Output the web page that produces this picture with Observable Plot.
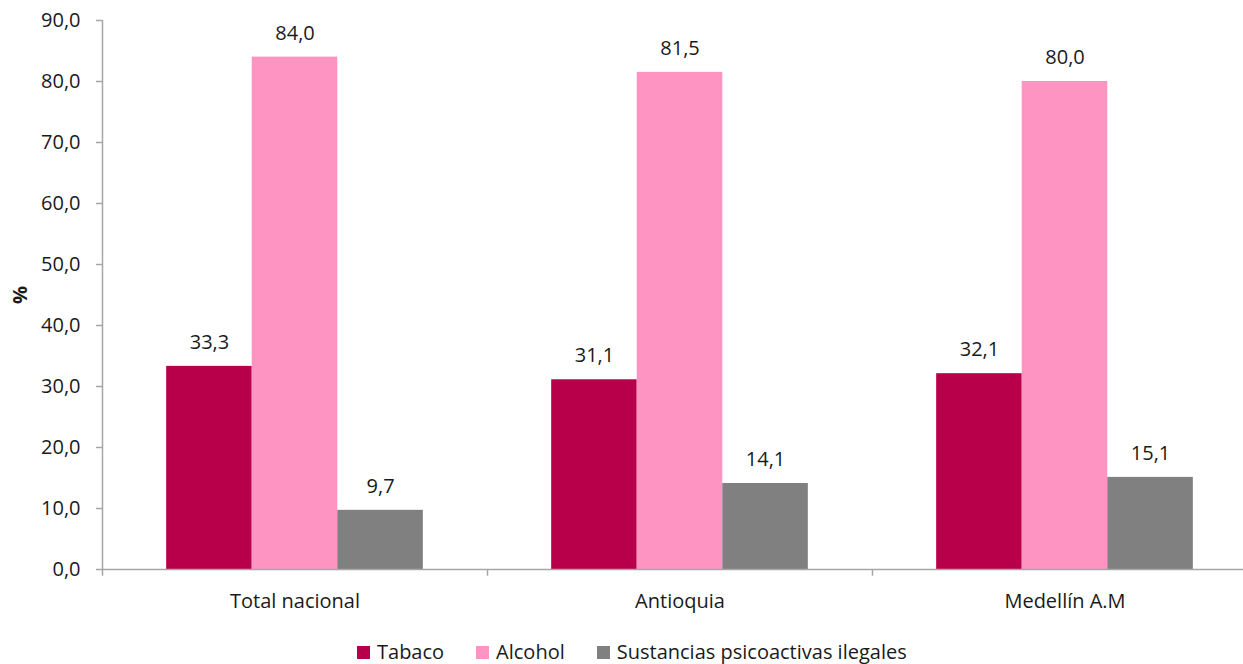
<!DOCTYPE html>
<html>
<head>
<meta charset="utf-8">
<script src="https://cdn.jsdelivr.net/npm/d3@7"></script>
<script src="https://cdn.jsdelivr.net/npm/@observablehq/plot@0.6"></script>
<style>
  html, body { margin: 0; padding: 0; background: #fff; overflow: hidden; }
  #wrap { position: relative; width: 1243px; height: 664px; overflow: hidden; font-family: "Open Sans", "Noto Sans", sans-serif; color: #1a1a1a; }
  #chart { position: absolute; left: 0; top: 0; }
  #chart svg { max-width: none !important; }
  g[aria-label="y-axis label"] text { font-weight: bold; }
  #legend { position: absolute; left: 357px; top: 640px; display: flex; align-items: center; font-size: 20px; line-height: 24px; white-space: nowrap; }
  #legend .item { display: flex; align-items: center; margin-right: 32px; }
  #legend .sw { width: 13px; height: 13px; margin-right: 7px; }
</style>
</head>
<body>
<div id="wrap">
  <div id="chart"></div>
  <div id="legend"></div>
</div>
<script>
const categories = ["Total nacional", "Antioquia", "Medellín A.M"];
const series = ["Tabaco", "Alcohol", "Sustancias psicoactivas ilegales"];
const tabaco = [33.3, 31.1, 32.1];
const alcohol = [84.0, 81.5, 80.0];
const ilegales = [9.7, 14.1, 15.1];
const colors = ["#b8004a", "#fe94c2", "#808080"];
const yTicks = [0, 10, 20, 30, 40, 50, 60, 70, 80, 90];
const yLabel = "%";

const values = [tabaco, alcohol, ilegales];
const rows = categories.flatMap((c, ci) =>
  series.map((s, si) => ({category: c, series: s, index: si, value: values[si][ci]}))
);
const fmt = v => v.toFixed(1).replace(".", ",");
const yMax = d3.max(yTicks);
const pad = 0.75; // gap on each side of the bar group, in bar widths
const axisColor = "#a6a6a6";
const fs = 20;

const plot = Plot.plot({
  width: 1260,
  height: 620,
  marginTop: 20,
  marginBottom: 51,
  marginLeft: 101,
  marginRight: 2,
  style: {fontFamily: "'Open Sans', 'Noto Sans', sans-serif", fontSize: fs + "px", color: "#1a1a1a", background: "#fff", maxWidth: "none"},
  fx: {domain: categories, padding: 0},
  x: {domain: [0, series.length + 2 * pad], axis: null},
  y: {domain: [0, yMax]},
  color: {domain: series, range: colors},
  marks: [
    Plot.rectY(rows, {fx: "category", x1: d => d.index + pad, x2: d => d.index + pad + 1, y: "value", fill: "series"}),
    Plot.text(rows, {fx: "category", x: d => d.index + pad + 0.5, y: "value", text: d => fmt(d.value), dy: -24, fontSize: fs, fill: "#1a1a1a"}),
    Plot.ruleY([0], {stroke: axisColor, strokeWidth: 1.5}),
    Plot.ruleX(categories, {fx: d => d, x: 0, y1: 0, y2: -1.1, stroke: axisColor, strokeWidth: 1.5}),
    Plot.ruleX([categories[0]], {fx: d => d, x: 0, y1: 0, y2: yMax, stroke: axisColor, strokeWidth: 1.5}),
    Plot.axisY({ticks: yTicks, tickFormat: fmt, tickSize: 6, tickPadding: 16, stroke: axisColor, strokeWidth: 1.5, fontSize: fs, fill: "#1a1a1a",
      label: yLabel, labelAnchor: "center", labelArrow: "none", labelOffset: 90}),
    Plot.axisFx({anchor: "bottom", tickSize: 0, tickPadding: 24, fontSize: fs, fill: "#1a1a1a", label: null})
  ]
});
document.getElementById("chart").appendChild(plot);

const legend = d3.select("#legend");
series.forEach((s, i) => {
  const item = legend.append("div").attr("class", "item");
  item.append("div").attr("class", "sw").style("background", colors[i]);
  item.append("span").text(s);
});
</script>
</body>
</html>
